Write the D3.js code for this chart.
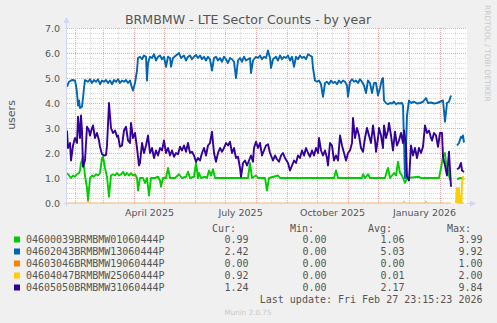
<!DOCTYPE html>
<html><head><meta charset="utf-8">
<script src="https://cdn.jsdelivr.net/npm/d3@7"></script>
<style>html,body{margin:0;padding:0;background:#f0f0f0;}svg{display:block;}</style>
</head><body><svg id="c" width="497" height="323"></svg>
<script>
// ---- data (day offset from graph start, value) ----
const seriesNames = ["04600039BRMBMW01060444P","04602043BRMBMW13060444P","04603046BRMBMW19060444P","04604047BRMBMW25060444P","04605050BRMBMW31060444P"];
const seriesColors = ["#00cc00","#0066b3","#ff8000","#ffcc00","#330099"];
const curVals = ["0.99","2.42","0.00","0.92","1.24"];
const minVals = ["0.00","0.00","0.00","0.00","0.00"];
const avgVals = ["1.06","5.03","0.00","0.01","2.17"];
const maxVals = ["3.99","9.92","1.00","2.00","9.84"];
const yTicks = [0,1,2,3,4,5,6,7];
const xLabels = ["April 2025","July 2025","October 2025","January 2026"];
const xLabelDates = ["2025-04-16","2025-07-16","2025-10-16","2026-01-16"];

const green = [[0,1.2],[2,1.1],[4,1.0],[6,1.1],[8,1.05],[10,1.15],[12,1.2],[13,1.3],[14,1.6],[16,1.85],[18,1.1],[20,0.6],[21,0.1],[23,1.0],[25,1.1],[27,1.05],[29,1.15],[31,1.1],[33,1.2],[35,1.8],[36,1.85],[38,1.4],[40,1.05],[42,0.25],[44,1.1],[46,1.15],[48,1.1],[50,1.2],[52,1.1],[54,1.15],[56,1.25],[58,1.1],[60,1.2],[62,1.1],[64,1.2],[66,1.1],[68,1.15],[70,1.0],[71,0.5],[73,1.0],[76,1.0],[78,0.8],[80,1.0],[82,0.3],[84,1.0],[88,1.0],[91,1.05],[93,0.9],[94,0.65],[96,1.0],[99,1.0],[101,1.4],[103,1.0],[108,1.0],[112,1.15],[115,1.0],[119,1.05],[121,1.25],[123,1.0],[127,1.05],[129,1.6],[131,1.0],[132,1.2],[134,1.0],[138,1.05],[140,1.0],[142,1.3],[144,1.1],[146,1.35],[148,1.0],[153,1.0],[163,1.0],[173,1.0],[181,1.0],[183,1.6],[185,1.0],[189,1.1],[191,1.0],[198,1.0],[200,0.5],[202,1.0],[211,1.1],[213,1.0],[223,1.0],[233,1.0],[243,1.0],[253,1.0],[263,1.0],[267,1.0],[269,1.3],[271,1.0],[283,1.0],[295,1.0],[296,1.15],[298,1.0],[301,1.15],[303,1.0],[318,1.0],[320,1.3],[321,1.4],[323,1.0],[325,1.1],[327,1.2],[329,1.1],[331,1.65],[333,1.2],[335,1.1],[337,0.9],[338,0.8],[340,1.0],[352,1.05],[354,1.0],[372,1.0],[374,1.4],[376,1.85],[378,2.0],[379,1.6],[381,1.3],[383,0.9],[384,null],[390,0.95],[393,1.0],[397,0.99]];

const blue = [[0,4.65],[2,4.85],[5,4.92],[8,4.9],[9,4.7],[10,4.4],[11,3.9],[12,4.1],[13,3.8],[15,3.85],[16,4.2],[17,4.6],[18,4.92],[21,4.85],[23,4.95],[25,4.8],[27,4.92],[29,4.85],[31,4.95],[33,4.75],[35,4.9],[37,4.85],[39,4.92],[41,4.8],[43,4.9],[45,4.75],[47,4.92],[49,4.85],[51,4.95],[53,4.8],[55,4.9],[57,4.85],[59,4.92],[61,4.8],[63,4.9],[65,4.6],[66,4.5],[68,4.8],[70,5.3],[71,5.8],[73,5.85],[75,5.75],[77,5.9],[79,5.85],[80,4.9],[81,5.6],[83,5.85],[85,5.8],[87,5.95],[89,5.7],[91,5.85],[93,5.9],[95,5.75],[97,5.85],[99,5.45],[101,5.85],[103,5.8],[104,5.45],[106,5.8],[109,5.9],[112,6.0],[114,5.8],[117,5.9],[119,5.7],[121,5.85],[123,5.9],[125,5.75],[127,5.85],[129,5.92],[131,5.8],[133,5.9],[135,5.75],[137,5.85],[139,5.7],[141,5.85],[143,5.75],[145,5.3],[147,5.8],[149,5.85],[151,5.7],[153,5.8],[155,5.65],[157,5.85],[159,5.75],[161,5.6],[163,5.8],[165,5.75],[167,5.65],[169,5.0],[171,5.7],[173,5.8],[175,5.65],[177,5.85],[179,5.7],[181,5.75],[183,5.8],[184,5.2],[186,5.7],[189,5.85],[191,5.8],[193,5.9],[195,5.75],[197,5.85],[199,5.8],[201,6.1],[203,5.8],[204,5.4],[206,5.75],[209,5.85],[211,5.7],[213,5.9],[215,5.75],[217,5.85],[219,5.8],[221,5.9],[223,5.7],[225,5.85],[227,5.45],[229,5.85],[231,5.75],[233,5.9],[235,5.8],[237,5.85],[239,5.75],[241,5.95],[243,5.9],[245,5.85],[246,5.4],[248,4.9],[250,4.85],[252,4.9],[254,4.75],[256,4.25],[258,4.8],[260,4.85],[262,4.75],[264,4.9],[266,4.8],[268,4.85],[270,4.75],[272,4.9],[274,4.8],[276,4.9],[278,4.85],[280,4.7],[281,4.25],[283,4.85],[285,4.95],[287,4.85],[289,4.9],[291,4.8],[293,4.95],[295,4.85],[297,4.7],[299,4.4],[301,4.9],[303,4.8],[305,4.4],[307,4.8],[309,4.8],[311,4.3],[313,4.6],[315,4.95],[316,5.0],[317,4.1],[319,4.0],[321,3.95],[323,4.0],[325,3.98],[327,4.05],[329,3.95],[331,4.0],[333,3.98],[335,4.0],[336,3.9],[338,1.0],[340,3.5],[342,4.1],[344,4.0],[347,4.05],[350,3.98],[353,4.0],[356,4.05],[359,4.2],[361,4.0],[364,4.02],[367,3.98],[370,4.0],[373,4.05],[376,4.1],[378,3.25],[380,4.0],[382,4.05],[384,4.3],[385,null],[390,2.3],[392,2.4],[394,2.65],[395,2.6],[396,2.7],[397,2.42]];

const orange = [[0,0],[20,0],[21,0.12],[22,0],[336,0],[337,0.08],[338,0],[358,0],[359,0.08],[360,0],[384,0],[385,null],[390,0],[397,0]];

const yellow = [[389,0],[390,0.6],[390.5,0.05],[391,0.55],[391.5,0.1],[392,0.6],[392.5,0.0],[393,0.3],[393.5,0.05],[394,0.1],[394.5,0.0],[395,0.8],[396,1.05],[397,0.92]];

const purple = [[0,2.9],[1,2.2],[3,2.4],[4,1.7],[6,2.3],[8,2.6],[10,2.4],[11,3.45],[13,2.6],[14,3.5],[15,2.9],[16,1.45],[18,1.7],[20,3.05],[22,2.9],[23,2.7],[25,3.0],[26,3.1],[28,2.6],[30,2.8],[32,2.5],[33,2.25],[35,1.95],[37,1.9],[39,1.92],[40,2.3],[42,4.0],[44,3.0],[46,2.8],[48,2.9],[50,2.65],[51,2.7],[53,2.25],[55,2.3],[57,2.9],[59,3.05],[61,2.5],[63,2.4],[64,3.2],[66,2.6],[68,2.8],[70,2.2],[72,1.5],[73,1.6],[75,2.4],[77,2.0],[79,2.3],[81,2.7],[83,2.0],[85,2.2],[87,1.8],[89,2.1],[91,1.9],[93,2.2],[95,2.1],[97,2.5],[99,2.0],[101,2.2],[103,1.9],[105,2.1],[107,1.85],[109,2.0],[111,1.95],[113,2.25],[115,2.1],[117,2.3],[119,2.05],[121,2.4],[123,2.0],[125,2.05],[127,1.9],[129,1.65],[131,1.8],[133,1.7],[135,2.0],[137,2.2],[139,1.9],[141,2.3],[143,2.4],[145,2.85],[147,2.0],[149,1.65],[151,2.0],[153,2.2],[155,2.05],[157,2.2],[159,2.4],[161,2.3],[163,2.45],[165,2.0],[167,2.2],[169,1.8],[171,1.85],[173,1.4],[174,1.05],[176,1.6],[178,1.7],[180,1.5],[182,1.7],[184,1.9],[186,1.65],[187,2.2],[189,2.45],[191,2.2],[193,2.4],[195,1.9],[197,2.1],[199,2.3],[201,2.35],[203,2.0],[206,1.7],[208,1.9],[210,1.75],[212,1.65],[214,1.9],[216,2.0],[218,1.8],[221,1.6],[223,1.3],[225,1.5],[227,1.7],[229,1.6],[231,1.9],[233,1.8],[235,2.1],[237,1.9],[239,2.2],[241,2.0],[243,1.85],[245,2.1],[247,1.9],[249,2.2],[251,2.0],[252,2.6],[254,2.1],[256,1.9],[258,2.1],[260,1.8],[261,1.5],[263,2.4],[265,2.3],[267,1.7],[269,1.9],[271,1.7],[273,2.7],[275,2.3],[277,2.0],[279,1.7],[281,2.0],[283,2.1],[285,2.4],[286,3.4],[288,2.6],[290,3.0],[292,2.7],[294,2.2],[296,2.05],[298,2.6],[300,3.0],[302,2.7],[304,2.4],[306,3.1],[308,2.5],[309,2.05],[311,2.6],[312,3.0],[314,2.7],[316,2.2],[317,3.1],[319,2.6],[321,2.9],[322,3.2],[324,2.7],[326,2.1],[328,2.85],[330,2.3],[332,2.5],[334,2.8],[336,2.4],[337,2.9],[339,2.3],[340,1.05],[342,0.9],[344,2.3],[346,1.9],[348,2.2],[350,1.8],[352,2.2],[354,2.0],[356,2.25],[358,3.1],[360,2.8],[362,2.9],[364,2.6],[365,2.5],[367,2.8],[369,2.7],[371,2.25],[373,2.8],[375,2.8],[376,1.85],[378,1.5],[380,1.1],[382,2.05],[384,0.65],[385,null],[390,1.35],[392,1.4],[394,1.6],[395,1.3],[397,1.24]];

const seriesData = [green, blue, orange, yellow, purple];

// ---- layout ----
const svg = d3.select("#c");
const DAY = 864e5;
const start = Date.UTC(2025,0,23,23,15);
const end = start + 400*DAY;
const X0 = 67, X1 = 467, Y0 = 203, Y1 = 28;
const x = d3.scaleUtc().domain([new Date(start), new Date(end)]).range([X0, X1]);
const y = d3.scaleLinear().domain([0,7]).range([Y0, Y1]);
const toDate = d => new Date(start + d*DAY);

svg.append("rect").attr("width",497).attr("height",323).attr("fill","#f0f0f0");
svg.append("rect").attr("x",X0).attr("y",Y1).attr("width",X1-X0).attr("height",Y0-Y1).attr("fill","#ffffff");

const grid = svg.append("g").attr("shape-rendering","crispEdges").attr("stroke-width",1).attr("stroke-dasharray","1,1");
const minorY = d3.range(0, 7.01, 0.2).filter(v => Math.abs(v - Math.round(v)) > 0.01);
grid.selectAll(".hy").data(minorY).enter().append("line")
  .attr("x1",X0).attr("x2",X1).attr("y1",d=>Math.round(y(d))+0.5).attr("y2",d=>Math.round(y(d))+0.5)
  .attr("stroke","#dadada");
const months = d3.utcMonth.range(new Date(start), new Date(end));
const mids = d3.utcMonth.range(d3.utcMonth.offset(new Date(start),-1), new Date(end)).map(m => d3.utcDay.offset(m,15)).filter(d => d > start && d < end);
grid.selectAll(".vm").data(mids).enter().append("line")
  .attr("x1",d=>Math.round(x(d))+0.5).attr("x2",d=>Math.round(x(d))+0.5).attr("y1",Y1).attr("y2",Y0)
  .attr("stroke","#dadada");
grid.selectAll(".hM").data(yTicks.slice(1)).enter().append("line")
  .attr("x1",X0).attr("x2",X1).attr("y1",d=>Math.round(y(d))+0.5).attr("y2",d=>Math.round(y(d))+0.5)
  .attr("stroke","#eeaaaa");
grid.selectAll(".vM").data(months).enter().append("line")
  .attr("x1",d=>Math.round(x(d))+0.5).attr("x2",d=>Math.round(x(d))+0.5).attr("y1",Y1).attr("y2",Y0)
  .attr("stroke","#eeaaaa");

// lines
const line = d3.line().defined(d => d[1] !== null).x(d => x(toDate(d[0]))).y(d => y(d[1]));
seriesData.forEach((s,i) => {
  svg.append("path").datum(s).attr("d",line).attr("fill","none")
    .attr("stroke",seriesColors[i]).attr("stroke-width", i===2 ? 1.2 : 1.9).attr("stroke-linejoin","round")
    .attr("stroke-opacity", i===2 ? 0.55 : 1);
});

// axes lines & arrows
const axc = "#cfd6f8";
svg.append("line").attr("x1",X0-0.5).attr("x2",X0-0.5).attr("y1",Y0+3).attr("y2",Y1-6).attr("stroke",axc).attr("stroke-width",1);
svg.append("path").attr("d",`M${X0-3.5},${Y1-5} L${X0-0.5},${Y1-11} L${X0+2.5},${Y1-5} Z`).attr("fill",axc);
svg.append("line").attr("x1",X1).attr("x2",X1+4).attr("y1",Y0+0.5).attr("y2",Y0+0.5).attr("stroke",axc).attr("stroke-width",1);
svg.append("line").attr("x1",X0-3).attr("x2",X0).attr("y1",Y0+0.5).attr("y2",Y0+0.5).attr("stroke",axc).attr("stroke-width",1);
svg.append("path").attr("d",`M${X1+3},${Y0-2.5} L${X1+9},${Y0+0.5} L${X1+3},${Y0+3.5} Z`).attr("fill",axc);

// axis labels
const fontSans = "DejaVu Sans, sans-serif";
const yAxis = svg.append("g").attr("transform",`translate(${X0},0)`)
  .call(d3.axisLeft(y).tickValues(yTicks).tickFormat(d3.format(".1f")).tickSize(0).tickPadding(7));
yAxis.select(".domain").remove();
yAxis.selectAll("text").attr("font-family",fontSans).attr("font-size","9.5px").attr("fill","#555");

const xAxis = svg.append("g").attr("transform",`translate(0,${Y0})`)
  .call(d3.axisBottom(x).tickValues(xLabelDates.map(s => new Date(s+"T00:00:00Z"))).tickFormat((d,i)=>xLabels[i]).tickSize(0).tickPadding(6));
xAxis.select(".domain").remove();
xAxis.selectAll("text").attr("font-family",fontSans).attr("font-size","9.5px").attr("fill","#555");

svg.append("text").attr("x",248).attr("y",24).attr("text-anchor","middle")
  .attr("font-family",fontSans).attr("font-size","12.6px").attr("fill","#555")
  .text("BRMBMW - LTE Sector Counts - by year");
svg.append("text").attr("transform","translate(15,115) rotate(-90)").attr("text-anchor","middle")
  .attr("font-family",fontSans).attr("font-size","11px").attr("fill","#555").text("users");
svg.append("text").attr("transform","translate(485,5) rotate(90)").attr("text-anchor","start")
  .attr("font-family",fontSans).attr("font-size","7.5px").attr("fill","#c8c8c8").text("RRDTOOL / TOBI OETIKER");

// legend
const mono = "DejaVu Sans Mono, monospace";
const leg = svg.append("g").attr("font-family",mono).attr("font-size","10px").attr("fill","#555");
const headers = ["Cur:","Min:","Avg:","Max:"];
const headX = [212, 290, 368, 447];
const colRight = [248.5, 326.5, 404.5, 482.5];
headers.forEach((h,i)=> leg.append("text").attr("x",headX[i]).attr("y",231.5).text(h));
seriesNames.forEach((n,i)=>{
  const by = 243 + i*12;
  leg.append("rect").attr("x",14).attr("y",by-6.5).attr("width",6).attr("height",6).attr("fill",seriesColors[i]);
  leg.append("text").attr("x",26).attr("y",by).text(n);
  [curVals, minVals, avgVals, maxVals].forEach((arr,j)=>{
    leg.append("text").attr("x",colRight[j]).attr("y",by).attr("text-anchor","end").text(arr[i]);
  });
});
leg.append("text").attr("x",482.5).attr("y",303).attr("text-anchor","end").text("Last update: Fri Feb 27 23:15:23 2026");
svg.append("text").attr("x",248).attr("y",315).attr("text-anchor","middle")
  .attr("font-family",fontSans).attr("font-size","7.2px").attr("fill","#c8c8c8").text("Munin 2.0.75");
</script></body></html>
